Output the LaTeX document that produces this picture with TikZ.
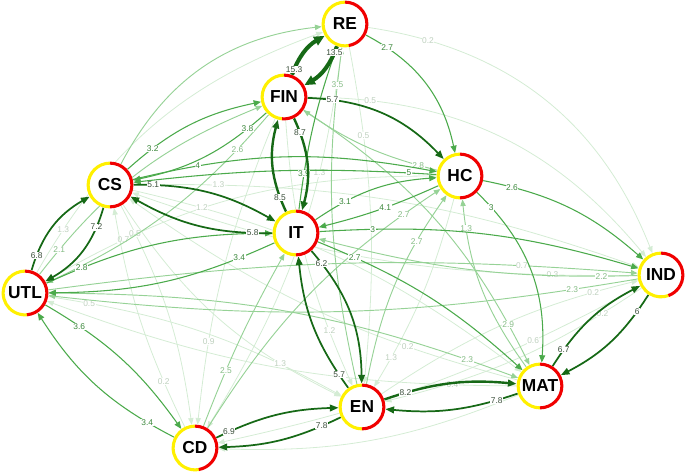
\documentclass[tikz,border=0pt]{standalone}
\usepackage{fontspec}
\setmainfont{Liberation Sans}
\usetikzlibrary{arrows.meta,backgrounds}
\definecolor{dkg}{RGB}{22,105,22}
\definecolor{mdg}{RGB}{75,170,75}
\definecolor{ltg}{RGB}{150,210,150}
\definecolor{fng}{RGB}{212,236,212}
\definecolor{ylw}{RGB}{255,240,0}
\definecolor{rd}{RGB}{240,0,0}
\definecolor{dlbl}{RGB}{60,80,60}
\newcommand\gring[2]{%
  \draw[ylw,line width=2.3pt] (#1.center) ++(90:16.4pt) arc[start angle=90,end angle=#2,radius=16.4pt];
  \draw[rd,line width=2.3pt] (#1.center) ++(90:16.4pt) arc[start angle=90,end angle=#2-360,radius=16.4pt];}
\begin{document}
\begin{tikzpicture}[x=0.75pt,y=-0.75pt,
  gn/.style={circle,minimum size=35.25pt,inner sep=0pt,outer sep=0pt,fill=white,font=\fontsize{13}{13}\selectfont\bfseries},
  hv/.style={draw=dkg,line width=1.3pt,-{Triangle[length=6.5pt,width=5pt]}},
  hvx/.style={hv,line width=3pt,-{Triangle[length=8pt,width=7pt]}},
  hvm/.style={hv,line width=1.8pt},
  md/.style={draw=mdg,line width=0.8pt,-{Triangle[length=5.5pt,width=4.5pt]}},
  lt/.style={draw=ltg,line width=0.7pt,-{Triangle[length=5pt,width=4pt]}},
  fn/.style={draw=fng,line width=0.6pt,-{Triangle[length=5pt,width=4pt]}},
  lb/.style={fill=white,inner sep=0.4pt,font=\fontsize{6.3}{6.3}\selectfont},
  lh/.style={lb,text=dlbl},
  lm/.style={lb,text=mdg!80!black},
  ll/.style={lb,text=ltg!90!black},
  lf/.style={lb,text=fng!75!gray},
]
\useasboundingbox (0,0) rectangle (685,473);
\node[gn] (RE) at (345,24) {RE};
\node[gn] (FIN) at (284,97) {FIN};
\node[gn] (CS) at (110,185) {CS};
\node[gn] (HC) at (460,176) {HC};
\node[gn] (IT) at (296,233) {IT};
\node[gn] (IND) at (661,275) {IND};
\node[gn] (UTL) at (25,293) {UTL};
\node[gn] (MAT) at (540,386) {MAT};
\node[gn] (EN) at (362,407) {EN};
\node[gn] (CD) at (195,448) {CD};
\begin{pgfonlayer}{background}
% faint
\draw[fn] (RE) to[bend left=30] node[lf,pos=0.15]{0.2} (IND);
\draw[fn] (FIN) to[bend left=25] node[lf,pos=0.15]{0.5} (IND);
\draw[fn] (RE) to[bend left=12] node[lf,pos=0.3]{1.3} (CD);
\draw[fn] (RE) to[bend left=8] node[lf,pos=0.25]{0.5} (EN);
\draw[fn] (CS) to[bend left=10] node[lf,pos=0.12]{0.5} (CD);
\draw[fn] (UTL) to[bend left=15] node[lf,pos=0.2]{0.7} (HC);
\draw[fn] (CS) to[bend left=12] node[lf,pos=0.15]{1.2} (MAT);
\draw[fn] (CS) to[bend left=10] node[lf,pos=0.15]{1.3} (IND);
\draw[fn] (UTL) to[bend left=10] node[lf,pos=0.12]{0.5} (EN);
\draw[fn] (CS) to[bend right=15] node[lf,pos=0.78]{1.3} (EN);
\draw[fn] (FIN) to[bend right=10] node[lf,pos=0.8]{1.2} (EN);
\draw[fn] (FIN) to[bend right=8] node[lf,pos=0.75]{0.9} (CD);
\draw[fn] (IND) to[bend left=10] node[lf,pos=0.15]{0.3} (CS);
\draw[fn] (IND) to[bend left=10] node[lf,pos=0.15]{0.2} (EN);
\draw[fn] (IND) to[bend left=8] node[lf,pos=0.25]{0.6} (CD);
\draw[fn] (MAT) to[bend left=10] node[lf,pos=0.12]{0.4} (UTL);
\draw[fn] (MAT) to[bend left=10] node[lf,pos=0.25]{0.2} (CS);
\draw[fn] (MAT) to[bend left=12] (CD);
\draw[fn] (HC) to[bend left=8] node[lf,pos=0.85]{1.3} (EN);
\draw[fn] (UTL) to[bend left=20] node[lf,pos=0.12]{1.3} (RE);
\draw[fn] (EN) to[bend left=10] node[lf,pos=0.85]{0.2} (IND);
\draw[fn] (CD) to[bend left=8] node[lf,pos=0.2]{0.2} (CS);
% light
\draw[lt] (CS) to[bend left=28] (RE);
\draw[lt] (UTL) to[bend left=15] node[ll,pos=0.1]{2.1} (FIN);
\draw[lt] (FIN) to[bend left=12] node[ll,pos=0.15]{2.6} (UTL);
\draw[lt] (CD) to[bend left=4] node[ll,pos=0.3]{2.5} (IT);
\draw[lt] (CD) to[bend left=12] node[ll,pos=0.88]{2.7} (HC);
\draw[lt] (EN) to[bend left=12] node[ll,pos=0.75]{2.7} (HC);
\draw[lt] (MAT) to[bend left=15] node[ll,pos=0.85]{1.3} (HC);
\draw[lt] (UTL) to[bend left=10] node[ll,pos=0.9]{2.3} (MAT);
\draw[lt] (UTL) to[bend left=6] node[lf,pos=0.82]{0.7} (IND);
\draw[lt] (IND) to[bend left=8] node[ll,pos=0.1]{2.3} (UTL);
\draw[lt] (IND) to[bend left=8] node[ll,pos=0.1]{2.2} (IT);
\draw[lt] (FIN) to[bend left=15] node[ll,pos=0.88]{2.9} (MAT);
\draw[lt] (EN) to[bend left=10] node[ll,pos=0.9]{3.5} (RE);
\draw[lt] (HC) to[bend left=10] node[ll,pos=0.12]{2.8} (FIN);
% medium
\draw[md] (RE) to[bend left=25] node[lm,pos=0.15]{2.7} (HC);
\draw[md] (CS) to[bend left=15] node[lm,pos=0.2]{3.2} (FIN);
\draw[md] (FIN) to[bend left=15] node[lm,pos=0.15]{3.8} (CS);
\draw[md] (CS) to[bend left=12] node[lm,pos=0.2]{4} (HC);
\draw[md] (HC) to[bend right=5] node[lm,pos=0.08]{5} (CS);
\draw[md] (IT) to[bend left=15] node[lm,pos=0.25]{3.1} (HC);
\draw[md] (HC) to[bend left=5] node[lm,pos=0.45]{4.1} (IT);
\draw[md] (IT) to[bend left=10] node[lm,pos=0.15]{3} (IND);
\draw[md] (IT) to[bend left=10] node[lm,pos=0.15]{2.7} (MAT);
\draw[md] (HC) to[bend left=25] node[lm,pos=0.1]{3} (MAT);
\draw[md] (HC) to[bend left=15] node[lm,pos=0.15]{2.6} (IND);
\draw[md] (UTL) to[bend left=12] node[lm,pos=0.15]{2.8} (IT);
\draw[md] (IT) to[bend left=12] node[lm,pos=0.15]{3.4} (UTL);
\draw[md] (UTL) to[bend left=12] node[lm,pos=0.2]{3.6} (CD);
\draw[md] (CD) to[bend left=15] node[lm,pos=0.15]{3.4} (UTL);
\draw[md] (IT) to[bend left=6] node[lm,pos=0.2]{3.9} (RE);
% heavy
\draw[hvx] (FIN) to[bend left=20] node[lh,pos=0.1]{15.3} (RE);
\draw[hvx] (RE) to[bend left=20] node[lh,pos=0.12]{13.5} (FIN);
\draw[hv] (FIN) to[bend left=22] node[lh,pos=0.15]{5.7} (HC);
\draw[hvm] (FIN) to[bend left=20] node[lh,pos=0.15]{8.7} (IT);
\draw[hvm] (IT) to[bend left=20] node[lh,pos=0.15]{8.5} (FIN);
\draw[hv] (CS) to[bend left=15] node[lh,pos=0.12]{5.1} (IT);
\draw[hv] (IT) to[bend left=15] node[lh,pos=0.12]{5.8} (CS);
\draw[hv] (CS) to[bend left=22] node[lh,pos=0.2]{7.2} (UTL);
\draw[hv] (UTL) to[bend left=22] node[lh,pos=0.15]{6.8} (CS);
\draw[hv] (IT) to[bend left=20] node[lh,pos=0.1]{6.2} (EN);
\draw[hv] (EN) to[bend left=15] node[lh,pos=0.1]{5.7} (IT);
\draw[hvm] (EN) to[bend left=12] node[lh,pos=0.15]{8.2} (MAT);
\draw[hv] (MAT) to[bend left=12] node[lh,pos=0.15]{7.8} (EN);
\draw[hv] (CD) to[bend left=12] node[lh,pos=0.1]{6.9} (EN);
\draw[hv] (EN) to[bend left=12] node[lh,pos=0.15]{7.8} (CD);
\draw[hv] (MAT) to[bend left=15] node[lh,pos=0.15]{6.7} (IND);
\draw[hv] (IND) to[bend left=15] node[lh,pos=0.15]{6} (MAT);
\end{pgfonlayer}
\gring{RE}{280}
\gring{FIN}{265}
\gring{CS}{270}
\gring{HC}{270}
\gring{IT}{270}
\gring{IND}{290}
\gring{UTL}{275}
\gring{MAT}{270}
\gring{EN}{270}
\gring{CD}{280}
\end{tikzpicture}
\end{document}
